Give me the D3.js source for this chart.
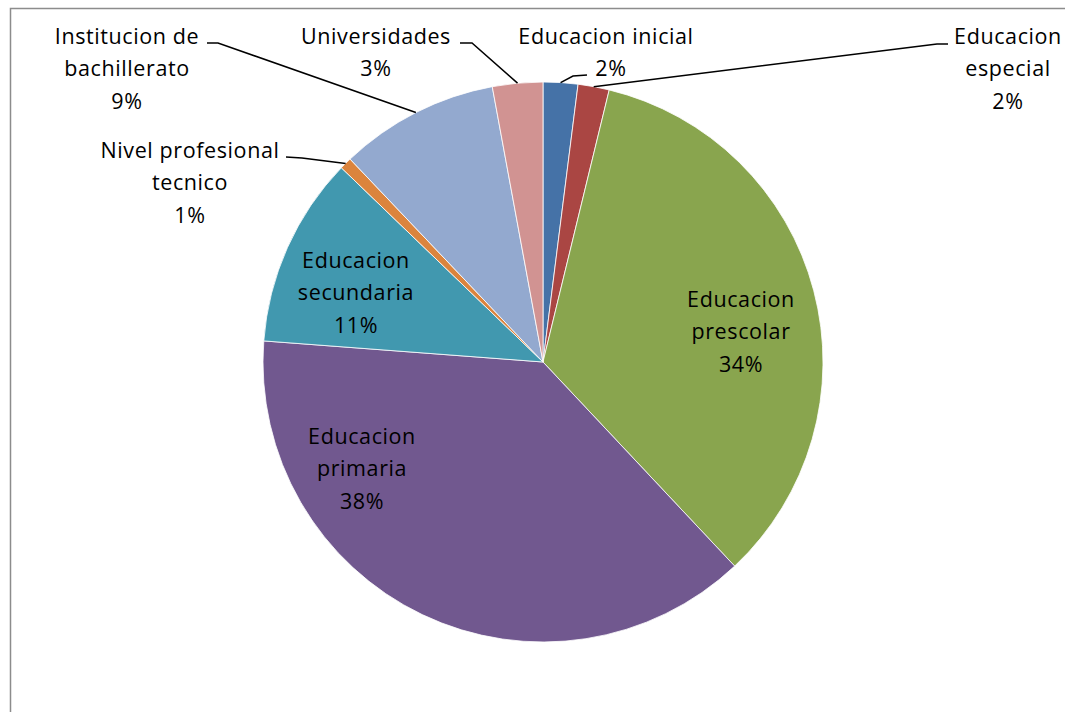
<!DOCTYPE html>
<html><head><meta charset="utf-8">
<script src="https://cdn.jsdelivr.net/npm/d3@7"></script>
<style>html,body{margin:0;padding:0;background:#fff;}svg{display:block;}</style>
</head><body>
<svg id="chart" width="1065" height="712"></svg>
<script>
const categories = ["Educacion inicial","Educacion especial","Educacion prescolar","Educacion primaria","Educacion secundaria","Nivel profesional tecnico","Institucion de bachillerato","Universidades"];
const values = [2.0, 1.8, 34.2, 38.2, 11.0, 0.7, 9.2, 2.9];
const labelLines = [["Educacion inicial"],["Educacion","especial"],["Educacion","prescolar"],["Educacion","primaria"],["Educacion","secundaria"],["Nivel profesional","tecnico"],["Institucion de","bachillerato"],["Universidades"]];
const percentLabels = ["2%","2%","34%","38%","11%","1%","9%","3%"];
const colors = ["#4572A7","#AA4643","#89A54E","#71588F","#4198AF","#DB843D","#93A9CF","#D19392"];

// layout (positions, not data)
const cx = 543, cy = 362, R = 280, lineH = 32.5;
const layout = [
  {x:606, y:36, pctX:611, inside:false, knee:[[587,75],[573,76]]},
  {x:1008, y:36, inside:false, knee:[[948,44],[937,44]]},
  {x:741, y:299, inside:true},
  {x:362, y:436, inside:true},
  {x:356, y:260, inside:true},
  {x:190, y:150, inside:false, knee:[[286,157],[302,158]]},
  {x:127, y:36, inside:false, knee:[[207,43],[218,43]]},
  {x:376, y:36, inside:false, knee:[[460,43],[472,43]]}
];

const svg = d3.select("#chart");
svg.append("rect").attr("x",10.5).attr("y",8.5).attr("width",1100).attr("height",800)
  .attr("fill","#fff").attr("stroke","#8c8c8c").attr("stroke-width",1.5);

const pie = d3.pie().sort(null).value(d=>d);
const arcs = pie(values);
const arc = d3.arc().innerRadius(0).outerRadius(R);
const g = svg.append("g").attr("transform",`translate(${cx},${cy})`);
g.selectAll("path.slice").data(arcs).enter().append("path")
  .attr("class","slice").attr("d",arc)
  .attr("fill",(d,i)=>colors[i]).attr("stroke","#fff").attr("stroke-width",0.8);

// leader lines
arcs.forEach((d,i)=>{
  const L = layout[i];
  if (L.inside) return;
  const a = (d.startAngle + d.endAngle)/2;
  const ax = cx + R*Math.sin(a), ay = cy - R*Math.cos(a);
  const pts = L.knee.concat([[ax,ay]]);
  svg.append("path").attr("d", d3.line()(pts)).attr("fill","none")
    .attr("stroke","#000").attr("stroke-width",1.5);
});

// labels
arcs.forEach((d,i)=>{
  const L = layout[i];
  const lines = labelLines[i].slice();
  const t = svg.append("text").attr("font-family","'Open Sans', sans-serif")
    .attr("font-size",21.5).attr("letter-spacing",0.6).attr("fill","#000").attr("text-anchor","middle");
  lines.forEach((s,k)=>{
    t.append("tspan").attr("x",L.x).attr("y",L.y + k*lineH + 7.5).text(s);
  });
  const py = L.y + lines.length*lineH + 7.5;
  t.append("tspan").attr("x", L.pctX || L.x).attr("y", py).text(percentLabels[i]);
});
</script>
</body></html>
